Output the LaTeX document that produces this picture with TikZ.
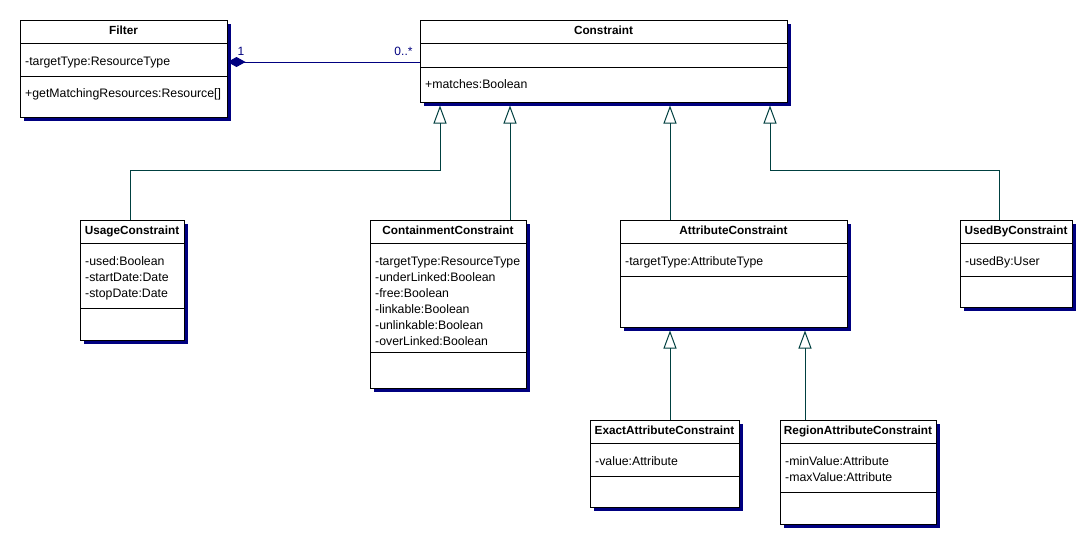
\documentclass[tikz,border=0pt]{standalone}
\usepackage{fontspec}
\setmainfont{Liberation Sans}
\usetikzlibrary{arrows.meta,fit,shadows}
\definecolor{navyc}{RGB}{0,0,128}
\definecolor{tealc}{RGB}{0,64,64}
\begin{document}
\begin{tikzpicture}[x=1pt,y=-1pt,
 cls/.style={draw=black,line width=1pt,fill=white,inner sep=0pt,
   drop shadow={shadow xshift=3.5pt,shadow yshift=-3.5pt,fill=navyc,opacity=1}},
 ttl/.style={font=\fontsize{11.8}{13}\selectfont\bfseries,inner sep=0pt,anchor=base},
 att/.style={font=\fontsize{12.3}{13}\selectfont,inner sep=0pt,anchor=base west},
 div/.style={line width=1pt},
 gen/.style={draw=tealc,line width=1pt,-{Triangle[open,length=18pt,width=13pt,line width=1pt]}},
 comp/.style={draw=navyc,line width=1pt,{Diamond[length=18pt,width=10pt,fill=navyc]}-},
 lbl/.style={font=\fontsize{12}{13}\selectfont,text=navyc,inner sep=0pt,anchor=base}
]
\useasboundingbox[fill=white] (0,0) rectangle (1085,538);

% Filter
\node[cls,fit={(20,20) (227,117)}] (filter) {};
\draw[div] (20,43) -- (227,43) (20,76) -- (227,76);
\node[ttl] (filterT) at (123.5,34.5) {Filter};
\node[att] (filterA1) at (25,65) {-targetType:ResourceType};
\node[att] (filterM1) at (25,97.5) {+getMatchingResources:Resource[]};

% Constraint
\node[cls,fit={(420,20) (787,102)}] (constraint) {};
\draw[div] (420,43) -- (787,43) (420,67) -- (787,67);
\node[ttl] (constraintT) at (603.5,34.5) {Constraint};
\node[att] (constraintM1) at (425,88.5) {+matches:Boolean};

% UsageConstraint
\node[cls,fit={(80,220) (184,340)}] (usage) {};
\draw[div] (80,243) -- (184,243) (80,308) -- (184,308);
\node[ttl] (usageT) at (132,234.5) {UsageConstraint};
\node[att] (usageA1) at (85,265) {-used:Boolean};
\node[att] (usageA2) at (85,281) {-startDate:Date};
\node[att] (usageA3) at (85,297) {-stopDate:Date};

% ContainmentConstraint
\node[cls,fit={(370,220) (526,388)}] (containment) {};
\draw[div] (370,243) -- (526,243) (370,352) -- (526,352);
\node[ttl] (containmentT) at (448,234.5) {ContainmentConstraint};
\node[att] (containmentA1) at (375,265) {-targetType:ResourceType};
\node[att] (containmentA2) at (375,281) {-underLinked:Boolean};
\node[att] (containmentA3) at (375,297) {-free:Boolean};
\node[att] (containmentA4) at (375,313) {-linkable:Boolean};
\node[att] (containmentA5) at (375,329) {-unlinkable:Boolean};
\node[att] (containmentA6) at (375,345) {-overLinked:Boolean};

% AttributeConstraint
\node[cls,fit={(620,220) (847,327)}] (attribute) {};
\draw[div] (620,243) -- (847,243) (620,276) -- (847,276);
\node[ttl] (attributeT) at (733.5,234.5) {AttributeConstraint};
\node[att] (attributeA1) at (625,265) {-targetType:AttributeType};

% UsedByConstraint
\node[cls,fit={(960,220) (1072,307)}] (usedby) {};
\draw[div] (960,243) -- (1072,243) (960,276) -- (1072,276);
\node[ttl] (usedbyT) at (1016,234.5) {UsedByConstraint};
\node[att] (usedbyA1) at (965,265) {-usedBy:User};

% ExactAttributeConstraint
\node[cls,fit={(590,420) (739,507)}] (exact) {};
\draw[div] (590,443) -- (739,443) (590,476) -- (739,476);
\node[ttl] (exactT) at (664.5,434.5) {ExactAttributeConstraint};
\node[att] (exactA1) at (595,465) {-value:Attribute};

% RegionAttributeConstraint
\node[cls,fit={(780,420) (936,524)}] (region) {};
\draw[div] (780,443) -- (936,443) (780,492) -- (936,492);
\node[ttl] (regionT) at (858,434.5) {RegionAttributeConstraint};
\node[att] (regionA1) at (785,465) {-minValue:Attribute};
\node[att] (regionA2) at (785,481) {-maxValue:Attribute};

% composition
\coordinate (ly) at (0,62);
\draw[comp] (filter.east |- ly) -- (constraint.west |- ly);
\node[lbl] (m1) at (241,55) {1};
\node[lbl] (m2) at (403.5,55) {0..*};

% generalizations
\coordinate (t1) at (440,105.5);
\coordinate (t2) at (510,105.5);
\coordinate (t3) at (670,105.5);
\coordinate (t4) at (770,105.5);
\coordinate (k1) at (440,170);
\coordinate (k4) at (770,170);
\coordinate (xu) at (130,0);
\coordinate (xb) at (999,0);
\coordinate (t5) at (670,330.5);
\coordinate (t6) at (805,330.5);
\draw[gen] (usage.north -| xu) |- (k1) -- (t1);
\draw[gen] (containment.north -| t2) -- (t2);
\draw[gen] (attribute.north -| t3) -- (t3);
\draw[gen] (usedby.north -| xb) |- (k4) -- (t4);
\draw[gen] (exact.north -| t5) -- (t5);
\draw[gen] (region.north -| t6) -- (t6);
\end{tikzpicture}
\end{document}
